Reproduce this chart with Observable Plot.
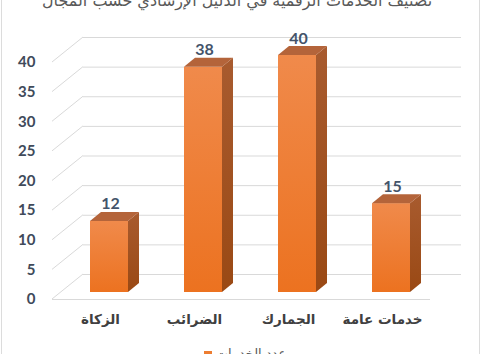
<!DOCTYPE html>
<html>
<head>
<meta charset="utf-8">
<script src="https://cdn.jsdelivr.net/npm/d3@7"></script>
<script src="https://cdn.jsdelivr.net/npm/@observablehq/plot@0.6"></script>
<style>
  html, body { margin: 0; padding: 0; background: #fff; }
  #wrap { position: relative; width: 482px; height: 354px; overflow: hidden; background: #fff; }
  #frame { position: absolute; left: 1px; top: -5px; width: 479px; height: 370px; border-left: 1px solid #dcdcdc; border-right: 1px solid #dcdcdc; box-sizing: border-box; }
  #title { position: absolute; left: 0; width: 474px; top: -9px; text-align: center; font: 16px "DejaVu Sans", sans-serif; color: #595959; direction: rtl; white-space: nowrap; }
  #chart { position: absolute; left: 0; top: 0; }
  #legend { position: absolute; left: 0; width: 490px; top: 346px; text-align: center; font: 13px "DejaVu Sans", sans-serif; color: #595959; white-space: nowrap; }
  #legend .sw { display: inline-block; width: 8px; height: 8px; background: #ED7D31; margin-right: 4px; vertical-align: middle; }
</style>
</head>
<body>
<div id="wrap">
  <div id="frame"></div>
  <div id="chart"></div>
  <div id="title"></div>
  <div id="legend"></div>
</div>
<script>
const titleText = "تصنيف الخدمات الرقمية في الدليل الإرشادي حسب المجال";
const legendLabel = "عدد الخدمات";
const categories = ["الزكاة", "الضرائب", "الجمارك", "خدمات عامة"];
const values = [12, 38, 40, 15];
const yTicks = [0, 5, 10, 15, 20, 25, 30, 35, 40];

const data = categories.map((c, i) => ({category: c, value: values[i]}));

// oblique depth projection offsets (pixels)
const DEPTH_X = 31, DEPTH_Y = -25;
const BAR_DX = 9, BAR_DY = -7;      // bar front plane
const BAR_DEPTH_X = 11, BAR_DEPTH_Y = -9;

const NS = "http://www.w3.org/2000/svg";
function el(name, attrs) {
  const e = document.createElementNS(NS, name);
  for (const k in attrs) e.setAttribute(k, attrs[k]);
  return e;
}

const defsMark = () => {
  const defs = el("defs", {});
  const g1 = el("linearGradient", {id: "frontGrad", x1: 0, y1: 0, x2: 0, y2: 1});
  g1.appendChild(el("stop", {offset: "0%", "stop-color": "#F08A4B"}));
  g1.appendChild(el("stop", {offset: "100%", "stop-color": "#EC7220"}));
  const g2 = el("linearGradient", {id: "sideGrad", x1: 0, y1: 0, x2: 0, y2: 1});
  g2.appendChild(el("stop", {offset: "0%", "stop-color": "#A85B2F"}));
  g2.appendChild(el("stop", {offset: "100%", "stop-color": "#9A4914"}));
  defs.appendChild(g1); defs.appendChild(g2);
  return defs;
};

// left side wall diagonals
const sideWall = (index, scales, values2, dims) => {
  const g = el("g", {stroke: "#d9d9d9", "stroke-width": 1, fill: "none"});
  const x0 = dims.marginLeft;
  for (const t of yTicks) {
    const y = scales.y(t);
    g.appendChild(el("line", {x1: x0, y1: y, x2: x0 + DEPTH_X, y2: y + DEPTH_Y}));
  }
  return g;
};

// side & top faces of bars
const barFaces = (index, scales) => {
  const g = el("g", {});
  const bw = scales.x.bandwidth();
  for (const d of data) {
    const x0 = scales.x(d.category) + BAR_DX;
    const x1 = x0 + bw;
    const yt = scales.y(d.value) + BAR_DY;
    const yb = scales.y(0) + BAR_DY;
    g.appendChild(el("polygon", {
      points: `${x1},${yt} ${x1 + BAR_DEPTH_X},${yt + BAR_DEPTH_Y} ${x1 + BAR_DEPTH_X},${yb + BAR_DEPTH_Y} ${x1},${yb}`,
      fill: "url(#sideGrad)"
    }));
    g.appendChild(el("polygon", {
      points: `${x0},${yt} ${x0 + BAR_DEPTH_X},${yt + BAR_DEPTH_Y} ${x1 + BAR_DEPTH_X},${yt + BAR_DEPTH_Y} ${x1},${yt}`,
      fill: "#B4643A"
    }));
  }
  return g;
};

const chart = Plot.plot({
  width: 482,
  height: 354,
  marginLeft: 52,
  marginRight: 52,
  marginTop: 62,
  marginBottom: 55,
  style: {fontFamily: "Lato, 'DejaVu Sans', sans-serif", background: "transparent", overflow: "visible"},
  x: {type: "band", domain: categories, paddingInner: 0.6, paddingOuter: 0.3},
  y: {domain: [0, 40]},
  marks: [
    defsMark,
    Plot.ruleY(yTicks, {stroke: "#d9d9d9", strokeWidth: 1, dx: DEPTH_X, dy: DEPTH_Y}),
    sideWall,
    Plot.ruleY([0], {stroke: "#d9d9d9", strokeWidth: 1}),
    Plot.barY(data, {x: "category", y: "value", fill: "url(#frontGrad)", dx: BAR_DX, dy: BAR_DY}),
    barFaces,
    Plot.text(data, {x: "category", y: "value", text: d => String(d.value), dx: BAR_DX + 1, dy: BAR_DY + BAR_DEPTH_Y - 3, lineAnchor: "bottom", fontSize: 16, fontWeight: "bold", fill: "#44546A"}),
    Plot.axisY({ticks: yTicks, tickSize: 0, tickPadding: 17, fontSize: 15, fontWeight: "bold", color: "#404A5A", label: null}),
    Plot.axisX({tickSize: 0, tickPadding: 15, fontSize: 13.5, fontWeight: "bold", color: "#404040", label: null, fontFamily: "'DejaVu Sans', sans-serif"})
  ]
});
document.getElementById("chart").appendChild(chart);
document.getElementById("title").textContent = titleText;
const lg = document.getElementById("legend");
lg.innerHTML = '<span class="sw"></span><span dir="rtl"></span>';
lg.querySelector("span[dir]").textContent = legendLabel;
</script>
</body>
</html>
